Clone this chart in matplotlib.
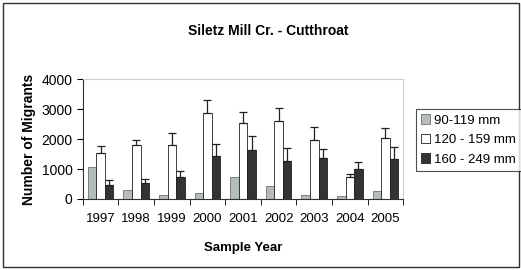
import numpy as np
import matplotlib.pyplot as plt
from matplotlib.patches import Rectangle

plt.rcParams['font.family'] = ['Liberation Sans', 'DejaVu Sans']

years = ["1997", "1998", "1999", "2000", "2001", "2002", "2003", "2004", "2005"]
small = [1080, 300, 140, 200, 740, 420, 120, 110, 255]
medium = [1530, 1800, 1800, 2870, 2520, 2610, 1980, 720, 2030]
medium_err = [250, 180, 400, 420, 380, 420, 410, 110, 340]
large = [480, 520, 720, 1440, 1630, 1255, 1370, 1010, 1340]
large_err = [140, 150, 230, 390, 460, 445, 300, 210, 380]
labels = ["90-119 mm", "120 - 159 mm", "160 - 249 mm"]

fig = plt.figure(figsize=(5.21, 2.70), dpi=100)
ax = fig.add_axes([0.159, 0.263, 0.615, 0.444])

x = np.arange(len(years))
w = 0.24
zeros = np.zeros(len(years))
ax.bar(x - w, small, w, color="#b4bcbc", edgecolor="#707070", linewidth=0.6, label=labels[0])
ax.bar(x, medium, w, color="white", edgecolor="#202020", linewidth=0.6, label=labels[1],
       yerr=[zeros, medium_err], error_kw=dict(ecolor="#202020", elinewidth=0.9, capsize=3, capthick=0.9))
ax.bar(x + w, large, w, color="#333333", edgecolor="#202020", linewidth=0.6, label=labels[2],
       yerr=[zeros, large_err], error_kw=dict(ecolor="#202020", elinewidth=0.9, capsize=3, capthick=0.9))

ax.set_xlim(-0.5, len(years) - 0.5)
ax.set_ylim(0, 4000)
ax.set_yticks([0, 1000, 2000, 3000, 4000])
ax.set_xticks(x)
ax.set_xticklabels(years)
ax.set_xticks(np.arange(-0.5, len(years)), minor=True)
ax.tick_params(axis="x", which="major", length=0, labelsize=9.5, pad=10)
ax.tick_params(axis="x", which="minor", length=4, direction="out")
ax.tick_params(axis="y", length=4, labelsize=10)
for s in ["top", "right"]:
    ax.spines[s].set_color("#cccccc")
ax.spines["left"].set_color("#303030")
ax.spines["bottom"].set_color("#303030")

ax.set_ylabel("Number of Migrants", fontsize=10, fontweight="bold", labelpad=4)
ax.set_xlabel("Sample Year", fontsize=9.5, fontweight="bold", labelpad=12)
fig.text(0.515, 0.885, "Siletz Mill Cr. - Cutthroat", ha="center", va="center",
         fontsize=10, fontweight="bold")

leg = fig.legend(loc="upper left", bbox_to_anchor=(0.785, 0.62), fontsize=9.5,
                 frameon=True, fancybox=False, edgecolor="#202020", borderpad=0.4,
                 handlelength=0.7, handleheight=0.7, handletextpad=0.3, labelspacing=0.55)
leg.get_frame().set_linewidth(0.8)

fig.patches.append(Rectangle((0.006, 0.012), 0.99, 0.976, transform=fig.transFigure,
                             fill=False, edgecolor="#303030", linewidth=1.0))

fig.savefig("out.png", dpi=100)
